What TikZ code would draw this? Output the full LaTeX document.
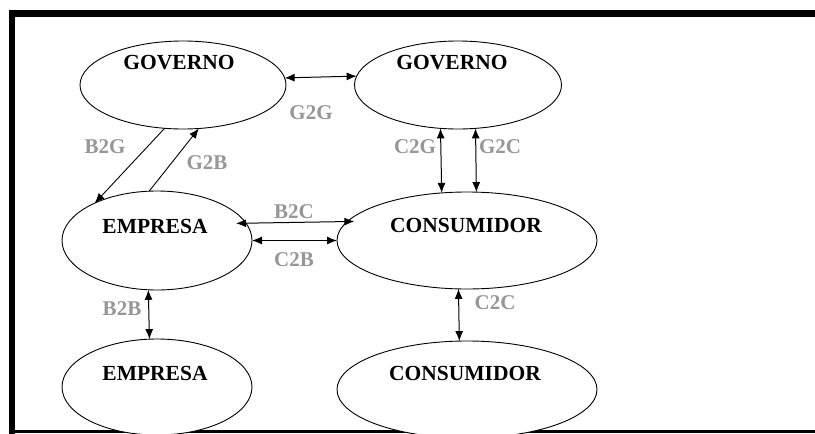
\documentclass[tikz,border=0pt]{standalone}
\usepackage{fontspec}
\setmainfont{Liberation Serif}
\usetikzlibrary{shapes.geometric,arrows.meta}
\definecolor{lblc}{RGB}{150,150,155}
\tikzset{
  ell/.style={ellipse,draw=black,line width=0.9pt,fill=white,inner sep=0pt,outer sep=0pt},
  ttl/.style={font=\fontsize{21.5}{21.5}\selectfont\bfseries,inner sep=0pt},
  lbl/.style={font=\fontsize{21}{21}\selectfont\bfseries,text=lblc,inner sep=0pt},
  tip/.tip={Latex[length=10pt,width=8pt]},
  both/.style={tip-tip,line width=1pt},
  oneway/.style={-tip,line width=0.9pt},
  frameline/.style={black,line cap=butt}
}
\begin{document}
\begin{tikzpicture}[x=1pt,y=-1pt]
\useasboundingbox (0,0) rectangle (815,434);
\clip (0,0) rectangle (815,434);
% frame
\coordinate (f1) at (8.5,13);
\coordinate (f2) at (815,13);
\coordinate (f3) at (11.5,9.5);
\coordinate (f4) at (11.5,434);
\coordinate (f5) at (8.5,431);
\coordinate (f6) at (815,431);
\draw[frameline,line width=7pt] (f1) -- (f2);
\draw[frameline,line width=6pt] (f3) -- (f4);
\draw[frameline,line width=3pt] (f5) -- (f6);
% ellipses
\node[ell,minimum width=206pt,minimum height=88pt] (gl) at (183,85) {};
\node[ell,minimum width=207pt,minimum height=88pt] (gr) at (458,85) {};
\node[ell,minimum width=190pt,minimum height=99pt] (em) at (157,240.5) {};
\node[ell,minimum width=260pt,minimum height=97pt] (cm) at (467,240.5) {};
\node[ell,minimum width=190pt,minimum height=96pt] (eb) at (157,387) {};
\node[ell,minimum width=260pt,minimum height=97pt] (cb) at (467,389.5) {};
% titles
\node[ttl] (tgl) at (179,62.5) {GOVERNO};
\node[ttl] (tgr) at (452,62.5) {GOVERNO};
\node[ttl] (tem) at (155,226.5) {EMPRESA};
\node[ttl] (tcm) at (466,225) {CONSUMIDOR};
\node[ttl] (teb) at (155,373.5) {EMPRESA};
\node[ttl] (tcb) at (465,373.5) {CONSUMIDOR};
% connectors
\draw[both] (gl.4.5) -- (gr.175.5);
\draw[oneway] (gl.247.4) -- (em.149);
\draw[oneway] (em.99.4) -- (gl.290.4);
\draw[both] (gr.248.6) -- (cm.118.7);
\draw[both] (gr.292.6) -- (cm.79.5);
\draw[both,shorten <=-10pt,shorten >=-7pt] (em.11.1) -- (cm.171.8);
\draw[both] (em.east) -- (cm.west);
\draw[both] (em.260.8) -- (eb.99.5);
\draw[both] (cm.260.6) -- (cb.99.4);
% labels
\node[lbl] (lg2g) at (311,113) {G2G};
\node[lbl] (lb2g) at (105,147) {B2G};
\node[lbl] (lg2b) at (207,163) {G2B};
\node[lbl] (lc2g) at (415,147) {C2G};
\node[lbl] (lg2c) at (500,147) {G2C};
\node[lbl] (lb2c) at (294,212) {B2C};
\node[lbl] (lc2b) at (294,260) {C2B};
\node[lbl] (lb2b) at (122,308.5) {B2B};
\node[lbl] (lc2c) at (495,303) {C2C};
\end{tikzpicture}
\end{document}
